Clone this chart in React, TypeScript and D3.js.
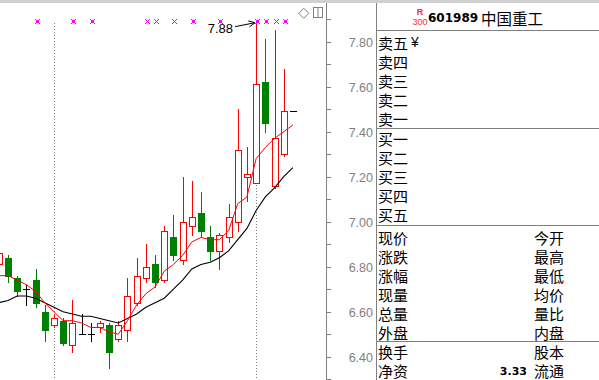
import React from "react";
import * as d3 from "d3";

// ---- data (daily K-line of 601989) ----
const dayOpen = [6.81, 6.84, 6.75, 6.70, 6.74, 6.60, 6.54, 6.56, 6.45, 6.50, 6.50, 6.53, 6.54, 6.48, 6.52, 6.64, 6.75, 6.81, 6.74, 6.93, 6.83, 6.98, 7.04, 6.93, 6.87, 6.93, 7.00, 7.20, 7.17, 7.62, 7.16, 7.30, 7.49];
const dayClose = [6.86, 6.76, 6.69, 6.70, 6.64, 6.52, 6.57, 6.46, 6.55, 6.50, 6.50, 6.55, 6.42, 6.54, 6.67, 6.76, 6.80, 6.73, 6.96, 6.85, 7.00, 7.02, 6.96, 6.87, 6.94, 7.02, 7.32, 7.21, 7.61, 7.44, 7.37, 7.49, 7.49];
const dayHigh = [6.88, 6.85, 6.76, 6.72, 6.79, 6.63, 6.59, 6.57, 6.65, 6.59, 6.55, 6.56, 6.55, 6.56, 6.75, 6.84, 6.90, 6.85, 6.98, 7.03, 7.20, 7.18, 7.13, 6.98, 6.95, 7.08, 7.50, 7.33, 7.88, 7.81, 7.85, 7.68, 7.49];
const dayLow = [6.80, 6.73, 6.67, 6.63, 6.62, 6.47, 6.53, 6.45, 6.42, 6.50, 6.47, 6.51, 6.35, 6.47, 6.47, 6.63, 6.73, 6.71, 6.73, 6.83, 6.81, 6.94, 6.93, 6.83, 6.79, 6.91, 6.96, 7.09, 7.17, 7.40, 7.15, 7.29, 7.49];
const maShort = [6.76, 6.76, 6.74, 6.72, 6.69, 6.64, 6.60, 6.56, 6.56, 6.55, 6.53, 6.53, 6.51, 6.50, 6.56, 6.63, 6.68, 6.71, 6.78, 6.81, 6.85, 6.91, 6.93, 6.92, 6.92, 6.96, 7.08, 7.11, 7.28, 7.33, 7.37, 7.40, 7.43];
const maLong = [6.64, 6.65, 6.67, 6.67, 6.66, 6.64, 6.62, 6.60, 6.59, 6.58, 6.58, 6.57, 6.56, 6.55, 6.57, 6.59, 6.62, 6.64, 6.66, 6.70, 6.74, 6.79, 6.81, 6.82, 6.84, 6.87, 6.92, 6.97, 7.05, 7.11, 7.15, 7.20, 7.24];
const markerIdx = [4, 8, 10, 16, 17, 19, 21, 24, 28, 29, 30, 31];
const markerBig = [1, 1, 1, 0, 0, 0, 1, 1, 1, 1, 0, 1];
const separatorIdx = [6, 28];
const peakIdx = 28;
const peakLabel = "7.88";
const yTickLabels = ["7.80", "7.60", "7.40", "7.20", "7.00", "6.80", "6.60", "6.40"];
const yMinorTicks = ["7.90", "7.70", "7.50", "7.30", "7.10", "6.90", "6.70", "6.50", "6.30"];

const stockCode = "601989";
const stockName = "中国重工";
const badgeTop = "R";
const badgeBottom = "300";
const sellLabels = ["卖五", "卖四", "卖三", "卖二", "卖一"];
const buyLabels = ["买一", "买二", "买三", "买四", "买五"];
const quoteLeft = ["现价", "涨跌", "涨幅", "现量", "总量", "外盘"];
const quoteRight = ["今开", "最高", "最低", "均价", "量比", "内盘"];
const infoLeft = ["换手", "净资"];
const infoRight = ["股本", "流通"];
const infoValues = ["", "3.33"];

const RED = "#ff0000";
const GREEN = "#008000";
const GRAY = "#808080";
const MAGENTA = "#ff00ff";
const CJK = "'Noto Sans CJK SC', sans-serif";
const LATIN = "'Liberation Sans', Arial, sans-serif";

export default function App() {
  const W = 599;
  const H = 380;
  const x = d3.scaleLinear().domain([0, dayOpen.length - 1]).range([-1.2, 292.9]);
  const y = d3.scaleLinear().domain([7.8, 6.4]).range([41.7, 356.7]);

  const line = d3
    .line<number>()
    .x((_, i) => x(i))
    .y((v) => y(v));

  const axisX = 326;
  const panelX = 376;

  const rowSell = d3.scalePoint<string>().domain(sellLabels).range([42, 118]);
  const rowBuy = d3.scalePoint<string>().domain(buyLabels).range([138, 214]);
  const rowQuote = d3.scalePoint<number>().domain(d3.range(quoteLeft.length)).range([237, 332]);
  const rowInfo = d3.scalePoint<number>().domain(d3.range(infoLeft.length)).range([351, 370]);

  const peakX = Math.round(x(peakIdx));
  const peakY = y(dayHigh[peakIdx]);
  const tipX = peakX - 1;
  const tipY = peakY - 1;
  const tailX = tipX - 20;
  const tailY = tipY + 4;
  const ang = Math.atan2(tipY - tailY, tipX - tailX);
  const head = (da: number) => [tipX - 7 * Math.cos(ang + da), tipY - 7 * Math.sin(ang + da)];
  const h1 = head(0.45);
  const h2 = head(-0.45);

  return (
    <svg
      width={W}
      height={H}
      style={{ position: "fixed", left: 0, top: 0, background: "#fff" }}
      shapeRendering="crispEdges"
    >
      <rect x={0} y={0} width={W} height={H} fill="#fff" />
      <rect x={0} y={0} width={W} height={3} fill="#d0d0d0" />

      {/* month separators */}
      {separatorIdx.map((i) => {
        const cx = Math.round(x(i)) + 0.5;
        return (
          <line key={i} x1={cx} x2={cx} y1={23} y2={H} stroke={GRAY} strokeDasharray="1 2" />
        );
      })}

      {/* candles */}
      {dayOpen.map((o, i) => {
        const c = dayClose[i];
        const cx = Math.round(x(i));
        const yT = Math.round(y(Math.max(o, c)));
        const yB = Math.round(y(Math.min(o, c)));
        const yH = Math.round(y(dayHigh[i]));
        const yL = Math.round(y(dayLow[i]));
        if (c > o) {
          return (
            <g key={i}>
              <line x1={cx + 0.5} x2={cx + 0.5} y1={yH} y2={yT} stroke={RED} />
              <line x1={cx + 0.5} x2={cx + 0.5} y1={yB} y2={yL + 1} stroke={RED} />
              <rect x={cx - 2.5} y={yT + 0.5} width={6} height={yB - yT} fill="#fff" stroke={RED} />
            </g>
          );
        }
        if (c < o) {
          return (
            <g key={i}>
              <line x1={cx + 0.5} x2={cx + 0.5} y1={yH} y2={yL + 1} stroke={GREEN} />
              <rect x={cx - 3} y={yT} width={7} height={yB - yT + 1} fill={GREEN} />
            </g>
          );
        }
        return (
          <g key={i}>
            <line x1={cx + 0.5} x2={cx + 0.5} y1={yH} y2={yL + 1} stroke="#000" />
            <line x1={cx - 3} x2={cx + 4} y1={yT + 0.5} y2={yT + 0.5} stroke="#000" />
          </g>
        );
      })}

      {/* moving averages */}
      <path d={line(maLong) || ""} fill="none" stroke="#000" strokeWidth={1.1} shapeRendering="auto" />
      <path d={line(maShort) || ""} fill="none" stroke={RED} strokeWidth={1} shapeRendering="auto" />

      {/* signal markers */}
      {markerIdx.map((i, k) => {
        const mx = Math.round(x(i)) + 1;
        const my = 21;
        if (markerBig[k]) {
          return (
            <g key={i} fill={MAGENTA}>
              <rect x={mx - 1} y={my - 1} width={3} height={3} />
              <rect x={mx - 2} y={my - 2} width={1} height={1} />
              <rect x={mx + 2} y={my - 2} width={1} height={1} />
              <rect x={mx - 2} y={my + 2} width={1} height={1} />
              <rect x={mx + 2} y={my + 2} width={1} height={1} />
            </g>
          );
        }
        return (
          <g key={i} fill={MAGENTA}>
            <rect x={mx} y={my} width={1} height={1} />
            <rect x={mx - 1} y={my - 1} width={1} height={1} />
            <rect x={mx + 1} y={my - 1} width={1} height={1} />
            <rect x={mx - 1} y={my + 1} width={1} height={1} />
            <rect x={mx + 1} y={my + 1} width={1} height={1} />
            <rect x={mx - 2} y={my - 2} width={1} height={1} />
            <rect x={mx + 2} y={my - 2} width={1} height={1} />
            <rect x={mx - 2} y={my + 2} width={1} height={1} />
            <rect x={mx + 2} y={my + 2} width={1} height={1} />
          </g>
        );
      })}

      {/* peak annotation */}
      <g stroke="#000" fill="none" shapeRendering="auto" strokeWidth={1}>
        <line x1={tailX} y1={tailY} x2={tipX} y2={tipY} />
        <line x1={h1[0]} y1={h1[1]} x2={tipX} y2={tipY} />
        <line x1={h2[0]} y1={h2[1]} x2={tipX} y2={tipY} />
      </g>
      <text x={tailX - 2} y={tailY + 6.5} textAnchor="end" fontFamily={LATIN} fontSize={13} fill="#000">
        {peakLabel}
      </text>

      {/* small icons */}
      <g fill="none" stroke={GRAY} shapeRendering="auto">
        <path d="M303.8,8.3 L308.8,13.3 L303.8,18.3 L298.8,13.3 Z" />
        <rect x={313.5} y={7.5} width={9} height={10} />
        <line x1={318} x2={318} y1={7.5} y2={17.5} />
      </g>

      {/* price axis */}
      <line x1={axisX + 0.5} x2={axisX + 0.5} y1={3} y2={H} stroke={GRAY} />
      {yMinorTicks.map((t) => {
        const ty = Math.round(y(+t)) + 0.5;
        return <line key={t} x1={axisX} x2={axisX + 5} y1={ty} y2={ty} stroke={GRAY} />;
      })}
      {yTickLabels.map((t) => {
        const ty = Math.round(y(+t)) + 0.5;
        return (
          <g key={t}>
            <line x1={axisX} x2={axisX + 5} y1={ty} y2={ty} stroke={GRAY} />
            <text x={373} y={ty + 4.5} textAnchor="end" fontFamily={LATIN} fontSize={12.5} fill={GRAY}>
              {t}
            </text>
          </g>
        );
      })}

      {/* right quote panel */}
      <line x1={panelX + 0.5} x2={panelX + 0.5} y1={3} y2={H} stroke={GRAY} />
      {[30, 128, 225, 341].map((ly) => (
        <line key={ly} x1={panelX} x2={W} y1={ly + 0.5} y2={ly + 0.5} stroke={GRAY} />
      ))}

      <text x={420} y={15} textAnchor="middle" fontFamily={LATIN} fontSize={9} fontWeight="bold" fill="#f03030">
        {badgeTop}
      </text>
      <text x={420} y={25} textAnchor="middle" fontFamily={LATIN} fontSize={9} fill="#f03030">
        {badgeBottom}
      </text>
      <text x={428} y={21.7} fontFamily="'DejaVu Sans', sans-serif" fontSize={12} fontWeight="bold" fill="#000">
        {stockCode}
      </text>
      <text x={481} y={17.5} dominantBaseline="central" fontFamily={CJK} fontSize={15.5} fill="#000">
        {stockName}
      </text>

      <g fontFamily={CJK} fontSize={15} fill="#000">
        {sellLabels.map((s) => (
          <text key={s} x={378} y={rowSell(s)} dominantBaseline="central">
            {s}
          </text>
        ))}
        <text x={411} y={rowSell(sellLabels[0])} dominantBaseline="central" fontFamily={LATIN} fontSize={14}>
          ¥
        </text>
        {buyLabels.map((s) => (
          <text key={s} x={378} y={rowBuy(s)} dominantBaseline="central">
            {s}
          </text>
        ))}
        {quoteLeft.map((s, i) => (
          <text key={s} x={378} y={rowQuote(i)} dominantBaseline="central">
            {s}
          </text>
        ))}
        {quoteRight.map((s, i) => (
          <text key={s} x={564} y={rowQuote(i)} dominantBaseline="central" textAnchor="end">
            {s}
          </text>
        ))}
        {infoLeft.map((s, i) => (
          <text key={s} x={378} y={rowInfo(i)} dominantBaseline="central">
            {s}
          </text>
        ))}
        {infoRight.map((s, i) => (
          <text key={s} x={564} y={rowInfo(i)} dominantBaseline="central" textAnchor="end">
            {s}
          </text>
        ))}
      </g>
      {infoValues.map((v, i) => (
        <text
          key={i}
          x={527}
          y={(rowInfo(i) || 0) + 4.5}
          textAnchor="end"
          fontFamily="'DejaVu Sans', sans-serif"
          fontSize={11}
          fontWeight="bold"
          fill="#000"
        >
          {v}
        </text>
      ))}
    </svg>
  );
}
